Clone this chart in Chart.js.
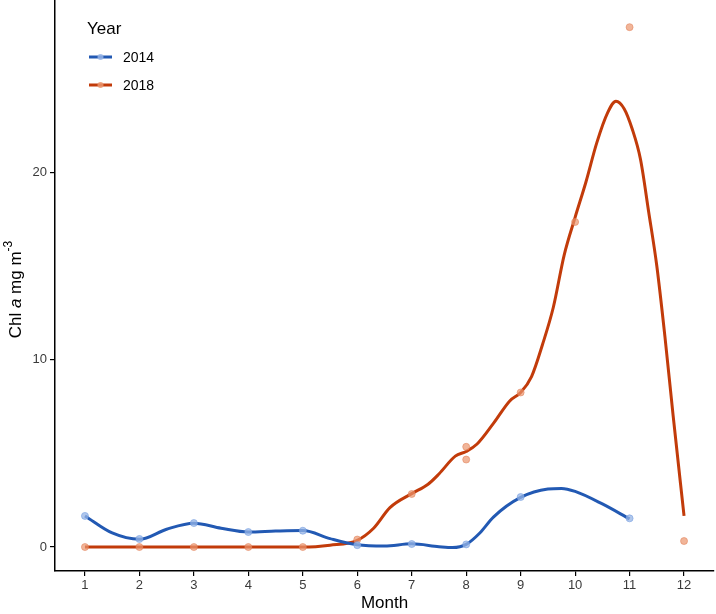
<!DOCTYPE html>
<html>
<head>
<meta charset="utf-8">
<script src="https://cdn.jsdelivr.net/npm/chart.js@4.4.1/dist/chart.umd.min.js"></script>
<style>
  html, body { margin: 0; padding: 0; background: #fff; }
  #wrap { width: 716px; height: 614px; }
</style>
</head>
<body>
<div id="wrap"><canvas id="myChart" width="716" height="614"></canvas></div>
<script>
// tick labels
const monthTicks = [1, 2, 3, 4, 5, 6, 7, 8, 9, 10, 11, 12];
const chlTicks = [0, 10, 20];

// observed values
const obs2014Month = [1, 2, 3, 4, 5, 6, 7, 8, 9, 11];
const obs2014Chl = [1.66, 0.43, 1.28, 0.8, 0.87, 0.1, 0.16, 0.14, 2.67, 1.53];
const obs2018Month = [1, 2, 3, 4, 5, 6, 7, 8, 8, 9, 10, 11, 12];
const obs2018Chl = [0, 0, 0, 0, 0, 0.4, 2.83, 5.35, 4.67, 8.25, 17.35, 27.75, 0.32];

// smoothed curves
const fit2014Month = [1, 1.5, 2, 2.5, 3, 3.5, 4, 4.5, 5, 5.5, 6, 6.5, 7, 7.5, 7.75, 8, 8.25, 8.5, 9, 9.5, 9.75, 10, 10.5, 11];
const fit2014Chl = [1.66, 0.75, 0.41, 0.95, 1.27, 1.0, 0.8, 0.85, 0.88, 0.45, 0.12, 0.05, 0.17, 0.02, -0.03, 0.14, 0.75, 1.6, 2.65, 3.1, 3.13, 2.97, 2.3, 1.5];
const fit2018Month = [1, 2, 3, 4, 5, 5.5, 6, 6.3, 6.6, 7, 7.3, 7.5, 7.8, 8, 8.2, 8.5, 8.8, 9, 9.2, 9.4, 9.6, 9.8, 10, 10.2, 10.4, 10.6, 10.75, 10.9, 11.05, 11.2, 11.35, 11.5, 11.65, 11.8, 12];
const fit2018Chl = [0, 0, 0, 0, 0, 0.1, 0.36, 1.0, 2.1, 2.85, 3.35, 3.9, 4.85, 5.1, 5.5, 6.6, 7.8, 8.25, 9.1, 10.8, 12.8, 15.6, 17.6, 19.5, 21.6, 23.2, 23.8, 23.4, 22.3, 20.7, 17.9, 15.0, 11.2, 7.0, 1.66];

const blue = '#2259b3';
const red = '#c23b0a';

function pts(xs, ys) {
  return xs.map((x, i) => ({ x: x, y: ys[i] }));
}

const FONT = "'Liberation Sans', Arial, sans-serif";

const extraText = {
  id: 'extraText',
  afterDraw(chart) {
    const ctx = chart.ctx;
    const area = chart.chartArea;
    ctx.save();
    // y axis title with italic a and superscript
    ctx.translate(16, (area.top + area.bottom) / 2 + 4);
    ctx.rotate(-Math.PI / 2);
    ctx.fillStyle = '#000';
    ctx.textBaseline = 'middle';
    const parts = [
      { t: 'Chl ', f: '17px ' + FONT, dy: 0 },
      { t: 'a', f: 'italic 17px ' + FONT, dy: 0 },
      { t: ' mg m', f: '17px ' + FONT, dy: 0 },
      { t: '-3', f: '12px ' + FONT, dy: -7 }
    ];
    let w = 0;
    parts.forEach(p => { ctx.font = p.f; w += ctx.measureText(p.t).width; });
    let x = -w / 2;
    parts.forEach(p => {
      ctx.font = p.f;
      ctx.fillText(p.t, x, p.dy);
      x += ctx.measureText(p.t).width;
    });
    ctx.restore();

    // legend
    ctx.save();
    ctx.fillStyle = '#000';
    ctx.font = '17px ' + FONT;
    ctx.textBaseline = 'alphabetic';
    ctx.fillText('Year', 87, 34);
    const items = [['2014', blue, 'rgba(150,180,230,0.85)', 57], ['2018', red, 'rgba(235,150,110,0.85)', 85]];
    items.forEach(it => {
      ctx.strokeStyle = it[1];
      ctx.lineWidth = 3;
      ctx.beginPath();
      ctx.moveTo(89, it[3]);
      ctx.lineTo(112, it[3]);
      ctx.stroke();
      ctx.fillStyle = it[2];
      ctx.beginPath();
      ctx.arc(100.5, it[3], 3, 0, Math.PI * 2);
      ctx.fill();
      ctx.fillStyle = '#000';
      ctx.font = '14px ' + FONT;
      ctx.textBaseline = 'middle';
      ctx.fillText(it[0], 123, it[3] + 1);
    });
    ctx.restore();
  }
};

const ctx = document.getElementById('myChart').getContext('2d');
const myChart = new Chart(ctx, {
  type: 'line',
  data: {
    datasets: [
      {
        label: '2014 obs',
        type: 'scatter',
        data: pts(obs2014Month, obs2014Chl),
        backgroundColor: 'rgba(150,180,230,0.75)',
        borderColor: 'rgba(120,160,225,0.6)',
        borderWidth: 1,
        pointRadius: 3.5,
        order: 0
      },
      {
        label: '2018 obs',
        type: 'scatter',
        data: pts(obs2018Month, obs2018Chl),
        backgroundColor: 'rgba(235,150,110,0.7)',
        borderColor: 'rgba(225,130,90,0.55)',
        borderWidth: 1,
        pointRadius: 3.5,
        order: 0
      },
      {
        label: '2014',
        data: pts(fit2014Month, fit2014Chl),
        borderColor: blue,
        borderWidth: 3,
        pointRadius: 0,
        cubicInterpolationMode: 'monotone',
        fill: false,
        order: 1
      },
      {
        label: '2018',
        data: pts(fit2018Month, fit2018Chl),
        borderColor: red,
        borderWidth: 3,
        pointRadius: 0,
        cubicInterpolationMode: 'monotone',
        fill: false,
        order: 1
      }
    ]
  },
  options: {
    responsive: false,
    animation: false,
    layout: { autoPadding: false, padding: { top: 0, right: 2, left: 0, bottom: 0 } },
    plugins: {
      legend: { display: false },
      tooltip: { enabled: false }
    },
    scales: {
      x: {
        type: 'linear',
        min: 0.45,
        max: 12.55,
        afterBuildTicks: scale => { scale.ticks = monthTicks.map(v => ({ value: v })); },
        afterFit: scale => { scale.height = 43; scale.paddingLeft = 0; scale.paddingRight = 0; },
        grid: { display: true, drawOnChartArea: false, drawTicks: true, tickLength: 5, color: '#000', lineWidth: 1.2 },
        border: { display: true, color: '#000', width: 1.5 },
        ticks: { color: '#3a3a3a', font: { family: FONT, size: 13 }, padding: 2, maxRotation: 0, autoSkip: false },
        title: { display: true, text: 'Month', color: '#000', font: { family: FONT, size: 17 }, padding: { top: 0, bottom: 0 } }
      },
      y: {
        type: 'linear',
        min: -1.28,
        max: 29.2,
        afterBuildTicks: scale => { scale.ticks = chlTicks.map(v => ({ value: v })); },
        afterFit: scale => { scale.width = 55; scale.paddingTop = 0; scale.paddingBottom = 0; },
        grid: { display: true, drawOnChartArea: false, drawTicks: true, tickLength: 5, color: '#000', lineWidth: 1.2 },
        border: { display: true, color: '#000', width: 1.5 },
        ticks: { color: '#3a3a3a', font: { family: FONT, size: 13 }, padding: 3 }
      }
    }
  },
  plugins: [extraText]
});
</script>
</body>
</html>
